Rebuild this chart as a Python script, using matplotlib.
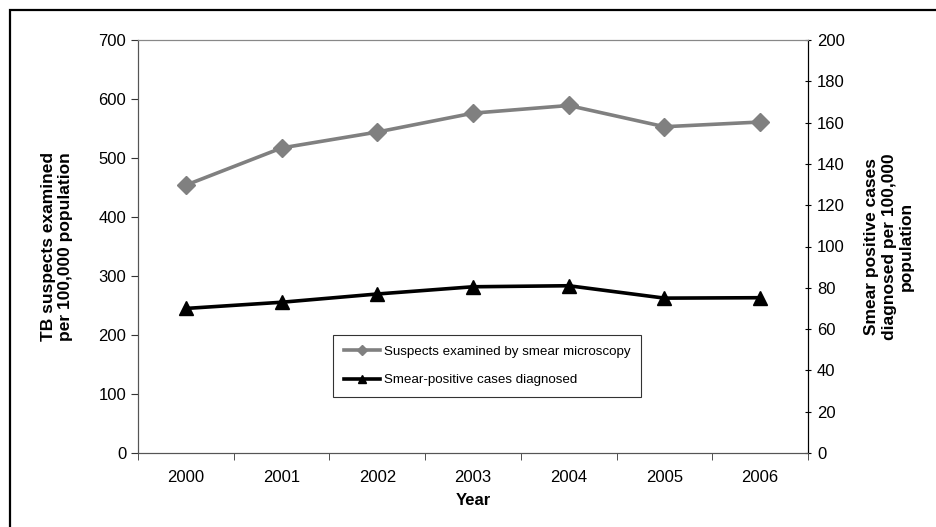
import matplotlib.pyplot as plt
from matplotlib.patches import Rectangle

plt.rcParams['font.family'] = ['Liberation Sans', 'DejaVu Sans']

years = ['2000', '2001', '2002', '2003', '2004', '2005', '2006']
suspects = [454, 517, 544, 576, 589, 553, 561]
smear_pos = [70, 73, 77, 80.5, 81, 75, 75.2]

left_ticks = [0, 100, 200, 300, 400, 500, 600, 700]
right_ticks = [0, 20, 40, 60, 80, 100, 120, 140, 160, 180, 200]


def plot_chart():
    fig = plt.figure(figsize=(9.36, 5.27), dpi=100)
    ax = fig.add_axes([138 / 936, 1 - 453 / 527, 670 / 936, 413 / 527])
    ax2 = ax.twinx()

    x = list(range(len(years)))
    l1, = ax.plot(x, suspects, color='#808080', lw=2.6, marker='D',
                  markersize=9, label='Suspects examined by smear microscopy')
    l2, = ax2.plot(x, smear_pos, color='black', lw=2.6, marker='^',
                   markersize=10, label='Smear-positive cases diagnosed')

    ax.set_xlim(-0.5, len(years) - 0.5)
    ax.set_ylim(0, 700)
    ax2.set_ylim(0, 200)
    ax.set_yticks(left_ticks)
    ax2.set_yticks(right_ticks)

    # category labels in the middle, tick marks on the boundaries
    ax.set_xticks(x)
    ax.set_xticklabels(years)
    ax.set_xticks([i + 0.5 for i in range(-1, len(years))], minor=True)
    ax.tick_params(axis='x', which='major', length=0, pad=12, labelsize=12)
    ax.tick_params(axis='x', which='minor', length=5, direction='out', color='#333333')
    ax.tick_params(axis='y', length=5, direction='out', labelsize=12, color='#333333')
    ax2.tick_params(axis='y', length=5, direction='inout', labelsize=12, pad=4)

    for s in ['top', 'left', 'bottom']:
        ax.spines[s].set_color('#555555')
        ax2.spines[s].set_color('#555555')
    ax.spines['top'].set_color('#888888')
    ax2.spines['top'].set_color('#888888')
    ax2.spines['right'].set_color('black')

    ax.set_xlabel('Year', fontsize=12, fontweight='bold', labelpad=6)
    ax.set_ylabel('TB suspects examined\nper 100,000 population',
                  fontsize=12.5, fontweight='bold', labelpad=18)
    ax2.set_ylabel('Smear positive cases\ndiagnosed per 100,000\npopulation',
                   fontsize=12.5, fontweight='bold', rotation=90, labelpad=14)

    leg = fig.legend([l1, l2], [l1.get_label(), l2.get_label()],
                     loc='upper left', bbox_to_anchor=(333 / 936, 1 - 335 / 527),
                     borderaxespad=0, fontsize=9.6, frameon=True, fancybox=False,
                     edgecolor='black', handlelength=2.7, handletextpad=0.3,
                     borderpad=0.8, labelspacing=1.2, markerscale=0.6)
    leg.get_frame().set_linewidth(0.8)

    fig.patches.append(Rectangle((10 / 936, -0.1), 1.1, 1 - 10 / 527 + 0.1,
                                 transform=fig.transFigure, fill=False,
                                 edgecolor='black', lw=1.6))

    fig.savefig('out.png', dpi=100)


if __name__ == "__main__":
    plot_chart()
